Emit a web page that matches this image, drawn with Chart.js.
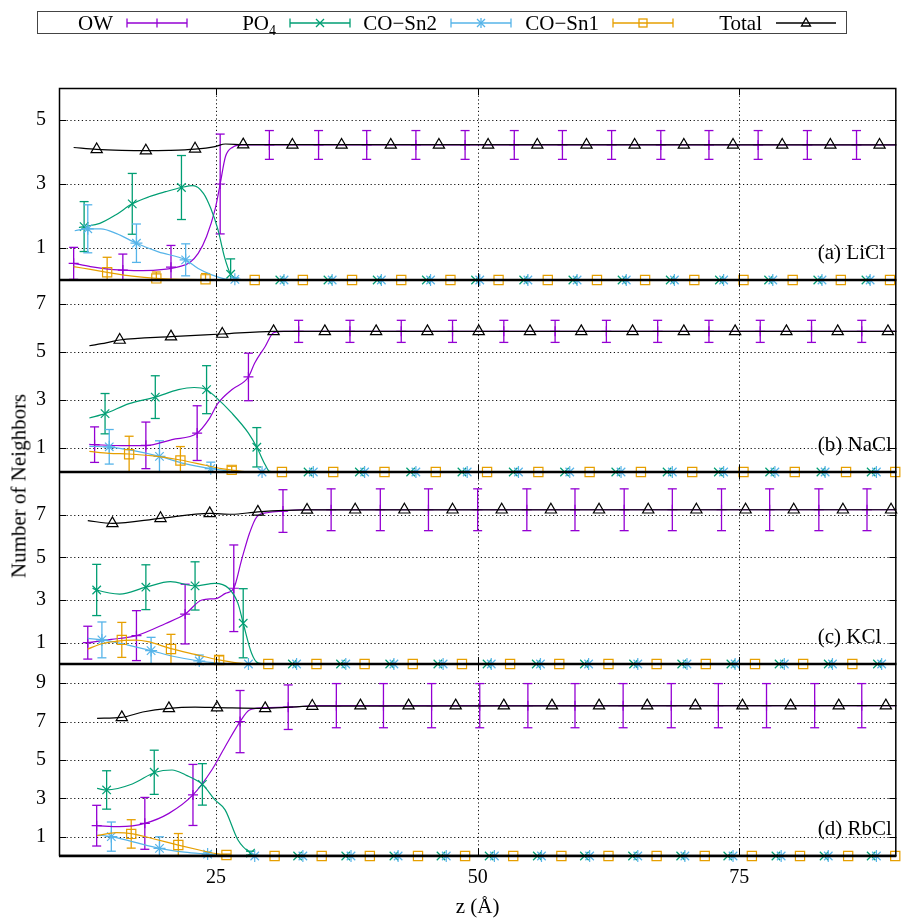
<!DOCTYPE html>
<html>
<head>
<meta charset="utf-8">
<script src="https://cdn.jsdelivr.net/npm/chart.js@4.4.0/dist/chart.umd.min.js"></script>
<style>
  html, body { margin: 0; padding: 0; background: #fff; }
  #wrap { position: relative; width: 904px; height: 921px; font-family: 'Liberation Serif', 'DejaVu Serif', serif; color: #000; }
  #legend { position: absolute; left: 37px; top: 11px; width: 808px; height: 21px; border: 1px solid #444; }
  .lab { position: absolute; top: 0; font-size: 21px; line-height: 22px; text-align: right; white-space: nowrap; }
  .lab sub { font-size: 14px; vertical-align: -5px; line-height: 0; }
  .smp { position: absolute; top: 0; }
  #ylab { position: absolute; left: 19px; top: 486px; transform: translate(-50%, -50%) rotate(-90deg); font-size: 21px; white-space: nowrap; }
</style>
</head>
<body>
<div id="wrap">
  <canvas id="chart" width="904" height="921"></canvas>
  <div id="legend"></div>
  <div id="ylab">Number of Neighbors</div>
</div>
<script>
// series (gnuplot default colours)
const seriesNames = ['OW', 'PO4', 'CO−Sn2', 'CO−Sn1', 'Total'];
const legendLabels = ['OW', 'PO<sub>4</sub>', 'CO−Sn2', 'CO−Sn1', 'Total'];
const seriesColors = ['#9400d3', '#009e73', '#56b4e9', '#e69f00', '#000000'];
const seriesMarkers = ['cross', 'crossRot', 'star', 'rect', 'triangle'];

// axes
const xTicks = [25, 50, 75];
const panelNames = ['(a) LiCl', '(b) NaCl', '(c) KCl', '(d) RbCl'];
const panelMax = [6, 8, 9, 10];
const panelTicks = [[1, 3, 5], [1, 3, 5, 7], [1, 3, 5, 7], [1, 3, 5, 7, 9]];

// (a) LiCl  -- lines: [z, n]   points: [z, n, err]
const licl_ow_line = [[11.4,0.52],[13,0.42],[14.5,0.35],[16.1,0.31],[18,0.29],[20,0.33],[21.5,0.42],[22.5,0.55],[23.3,0.83],[24.1,1.36],[24.9,2.19],[25.4,3.0],[25.9,3.85],[26.6,4.15],[27.5,4.22],[90,4.22]];
const licl_ow_pts = [[11.4,0.52,0.5],[16.1,0.31,0.5],[20.7,0.40,0.68],[25.4,3.0,1.56],[30.1,4.22,0.45],[34.8,4.22,0.45],[39.4,4.22,0.45],[44.1,4.22,0.45],[48.8,4.22,0.45],[53.5,4.22,0.45],[58.1,4.22,0.45],[62.8,4.22,0.45],[67.5,4.22,0.45],[72.1,4.22,0.45],[76.8,4.22,0.45],[81.5,4.22,0.45],[86.2,4.22,0.45]];
const licl_po4_line = [[11.9,1.64],[12.4,1.67],[13.9,1.77],[15.4,2.03],[17.0,2.38],[18.6,2.6],[20.2,2.76],[21.7,2.89],[22.8,2.95],[23.8,2.71],[24.5,2.24],[25.2,1.56],[25.8,0.73],[26.4,0.18],[27.0,0.03],[27.8,0],[90,0]];
const licl_po4_pts = [[12.4,1.67,0.78],[17.0,2.38,0.95],[21.7,2.89,1.0],[26.4,0.18,0.48],[31.1,0,0],[35.7,0,0],[40.4,0,0],[45.1,0,0],[49.8,0,0],[54.4,0,0],[59.1,0,0],[63.8,0,0],[68.4,0,0],[73.1,0,0],[77.8,0,0],[82.5,0,0],[87.1,0,0]];
const licl_sn2_line = [[11.5,1.54],[12.75,1.6],[14,1.6],[15.5,1.45],[17.4,1.15],[19.5,0.88],[22.1,0.63],[23.3,0.36],[24.6,0.16],[25.9,0.03],[27,0],[90,0]];
const licl_sn2_pts = [[12.75,1.6,0.75],[17.4,1.15,0.6],[22.1,0.63,0.5],[26.8,0.02,0.05],[31.5,0,0],[36.1,0,0],[40.8,0,0],[45.5,0,0],[50.2,0,0],[54.8,0,0],[59.5,0,0],[64.2,0,0],[68.8,0,0],[73.5,0,0],[78.2,0,0],[82.9,0,0],[87.5,0,0]];
const licl_sn1_line = [[11.4,0.42],[13,0.33],[14.6,0.24],[17,0.12],[19.3,0.05],[22,0.02],[24,0.01],[26,0],[90,0]];
const licl_sn1_pts = [[14.6,0.24,0.47],[19.3,0.05,0.2],[24.0,0.02,0.18],[28.7,0,0],[33.3,0,0],[38.0,0,0],[42.7,0,0],[47.4,0,0],[52.0,0,0],[56.7,0,0],[61.4,0,0],[66.0,0,0],[70.7,0,0],[75.4,0,0],[80.1,0,0],[84.7,0,0],[89.4,0,0]];
const licl_tot_line = [[11.4,4.14],[13.6,4.08],[16,4.05],[18.3,4.04],[20.5,4.05],[23.0,4.09],[24.9,4.17],[25.9,4.25],[27.6,4.23],[90,4.22]];
const licl_tot_pts = [[13.6,4.08],[18.3,4.04],[23.0,4.1],[27.6,4.23],[32.3,4.22],[37.0,4.22],[41.7,4.22],[46.3,4.22],[51.0,4.22],[55.7,4.22],[60.4,4.22],[65.0,4.22],[69.7,4.22],[74.4,4.22],[79.1,4.22],[83.7,4.22],[88.4,4.22]];

// (b) NaCl
const nacl_ow_line = [[12.9,1.15],[13.4,1.14],[16,1.1],[18.3,1.1],[20.8,1.35],[23.2,1.62],[24.3,2.18],[25.2,2.87],[26.5,3.43],[28.1,3.96],[28.7,4.54],[29.7,5.23],[30.5,5.8],[31.5,5.86],[90,5.86]];
const nacl_ow_pts = [[13.4,1.14,0.74],[18.3,1.11,0.97],[23.2,1.62,1.14],[28.1,3.96,0.99],[32.9,5.86,0.46],[37.8,5.86,0.46],[42.7,5.86,0.46],[47.6,5.86,0.46],[52.5,5.86,0.46],[57.4,5.86,0.46],[62.3,5.86,0.46],[67.2,5.86,0.46],[72.1,5.86,0.46],[77.0,5.86,0.46],[81.9,5.86,0.46],[86.7,5.86,0.46]];
const nacl_po4_line = [[12.9,2.25],[14.4,2.43],[16.7,2.85],[19.2,3.12],[21.4,3.43],[22.9,3.52],[24.1,3.43],[24.9,3.15],[26.5,2.46],[28.1,1.62],[28.9,1.03],[29.7,0.3],[30.1,0.03],[31,0],[90,0]];
const nacl_po4_pts = [[14.4,2.43,0.84],[19.2,3.12,0.89],[24.1,3.43,1.0],[28.9,1.03,0.82],[33.8,0,0],[38.7,0,0],[43.6,0,0],[48.5,0,0],[53.4,0,0],[58.3,0,0],[63.2,0,0],[68.1,0,0],[73.0,0,0],[77.9,0,0],[82.8,0,0],[87.6,0,0]];
const nacl_sn2_line = [[12.9,1.07],[14.8,1.04],[17,0.9],[19.6,0.65],[22,0.35],[24.5,0.14],[26.5,0.03],[28,0],[90,0]];
const nacl_sn2_pts = [[14.8,1.05,0.72],[19.6,0.65,0.65],[24.5,0.14,0.27],[29.4,0,0],[34.3,0,0],[39.2,0,0],[44.1,0,0],[49.0,0,0],[53.9,0,0],[58.8,0,0],[63.7,0,0],[68.6,0,0],[73.5,0,0],[78.4,0,0],[83.2,0,0],[88.1,0,0]];
const nacl_sn1_line = [[12.9,0.86],[14.8,0.78],[16.7,0.75],[19,0.67],[21.6,0.5],[24,0.28],[25.5,0.14],[26.5,0.08],[28,0.01],[29,0],[90,0]];
const nacl_sn1_pts = [[16.7,0.74,0.75],[21.6,0.48,0.58],[26.5,0.09,0.15],[31.3,0,0],[36.2,0,0],[41.1,0,0],[46.0,0,0],[50.9,0,0],[55.8,0,0],[60.7,0,0],[65.6,0,0],[70.5,0,0],[75.4,0,0],[80.3,0,0],[85.2,0,0],[89.9,0,0]];
const nacl_tot_line = [[12.9,5.26],[14.5,5.38],[15.8,5.5],[20.7,5.64],[25.6,5.75],[30.5,5.86],[90,5.86]];
const nacl_tot_pts = [[15.8,5.5],[20.7,5.64],[25.6,5.75],[30.5,5.86],[35.4,5.86],[40.3,5.86],[45.2,5.86],[50.1,5.86],[55.0,5.86],[59.9,5.86],[64.8,5.86],[69.7,5.86],[74.6,5.86],[79.5,5.86],[84.4,5.86],[89.2,5.86]];

// (c) KCl
const kcl_ow_line = [[12.75,1.0],[15,1.15],[17.4,1.33],[20.2,1.9],[22.05,2.34],[23.65,3.0],[25.1,3.08],[25.9,3.31],[26.7,3.55],[27.44,4.87],[28.2,6.13],[28.9,6.9],[30,7.1],[31.4,7.17],[33,7.23],[90,7.23]];
const kcl_ow_pts = [[12.75,1.0,0.77],[17.4,1.33,1.17],[22.05,2.34,1.4],[26.7,3.55,2.03],[31.4,7.17,1.0],[36.0,7.23,0.98],[40.7,7.23,0.98],[45.3,7.23,0.98],[50.0,7.23,0.98],[54.7,7.23,0.98],[59.3,7.23,0.98],[64.0,7.23,0.98],[68.6,7.23,0.98],[73.3,7.23,0.98],[77.9,7.23,0.98],[82.6,7.23,0.98],[87.2,7.23,0.98]];
const kcl_po4_line = [[13.2,3.55],[13.6,3.47],[15.8,3.28],[18.3,3.6],[20.65,3.86],[23.0,3.66],[24.9,3.78],[26.2,3.55],[27.1,2.84],[27.6,1.91],[28.4,0.5],[29.0,0.05],[30,0],[90,0]];
const kcl_po4_pts = [[13.6,3.47,1.2],[18.3,3.6,1.05],[23.0,3.66,1.13],[27.6,1.91,1.62],[32.3,0,0],[36.9,0,0],[41.6,0,0],[46.2,0,0],[50.9,0,0],[55.6,0,0],[60.2,0,0],[64.9,0,0],[69.5,0,0],[74.2,0,0],[78.8,0,0],[83.5,0,0],[88.2,0,0]];
const kcl_sn2_line = [[12.75,1.2],[14.1,1.13],[16.5,0.9],[18.8,0.63],[21,0.35],[23.4,0.14],[25,0.05],[26.5,0],[90,0]];
const kcl_sn2_pts = [[14.1,1.13,0.84],[18.8,0.63,0.62],[23.4,0.14,0.28],[28.1,0,0],[32.7,0,0],[37.4,0,0],[42.0,0,0],[46.7,0,0],[51.3,0,0],[56.0,0,0],[60.6,0,0],[65.3,0,0],[70.0,0,0],[74.6,0,0],[79.3,0,0],[83.9,0,0],[88.6,0,0]];
const kcl_sn1_line = [[12.75,0.7],[14.1,0.95],[16.0,1.1],[17.3,1.12],[18.5,1.05],[20.7,0.72],[23,0.45],[25.3,0.19],[27,0.05],[28.5,0],[90,0]];
const kcl_sn1_pts = [[16.0,1.13,0.82],[20.7,0.7,0.69],[25.3,0.19,0.19],[30.0,0,0],[34.6,0,0],[39.2,0,0],[43.8,0,0],[48.5,0,0],[53.1,0,0],[57.8,0,0],[62.5,0,0],[67.1,0,0],[71.8,0,0],[76.5,0,0],[81.1,0,0],[85.8,0,0]];
const kcl_tot_line = [[12.75,6.72],[15.1,6.59],[19.7,6.83],[24.4,7.06],[26.5,7.02],[29.0,7.13],[33.7,7.22],[90,7.23]];
const kcl_tot_pts = [[15.1,6.59],[19.7,6.83],[24.4,7.06],[29.0,7.13],[33.7,7.22],[38.3,7.23],[43.0,7.23],[47.6,7.23],[52.3,7.23],[57.0,7.23],[61.6,7.23],[66.3,7.23],[70.9,7.23],[75.6,7.23],[80.2,7.23],[84.9,7.23],[89.5,7.23]];

// (d) RbCl
const rbcl_ow_line = [[13.64,1.58],[15.76,1.53],[18.2,1.7],[20.5,2.22],[22.8,3.18],[24.6,4.48],[25.87,5.69],[27.3,7.0],[28.2,7.6],[29.5,7.72],[31.9,7.75],[35,7.83],[90,7.83]];
const rbcl_ow_pts = [[13.6,1.58,1.06],[18.2,1.7,1.35],[22.8,3.18,1.59],[27.3,7.0,1.62],[31.9,7.75,1.16],[36.5,7.83,1.15],[41.0,7.83,1.15],[45.6,7.83,1.15],[50.2,7.83,1.15],[54.8,7.83,1.15],[59.3,7.83,1.15],[63.9,7.83,1.15],[68.5,7.83,1.15],[73.0,7.83,1.15],[77.6,7.83,1.15],[82.2,7.83,1.15],[86.7,7.83,1.15]];
const rbcl_po4_line = [[13.64,3.52],[14.55,3.44],[17.0,3.75],[19.2,4.36],[20.8,4.48],[22.1,4.22],[23.7,3.73],[24.9,2.92],[25.87,2.4],[27.1,0.83],[28.3,0.15],[29,0.03],[30,0],[90,0]];
const rbcl_po4_pts = [[14.55,3.44,1.0],[19.1,4.36,1.15],[23.7,3.73,1.08],[28.3,0.15,0.1],[32.8,0,0],[37.4,0,0],[42.0,0,0],[46.5,0,0],[51.1,0,0],[55.7,0,0],[60.2,0,0],[64.8,0,0],[69.4,0,0],[73.9,0,0],[78.5,0,0],[83.1,0,0],[87.6,0,0]];
const rbcl_sn2_line = [[13.64,1.09],[15.0,1.01],[17,0.75],[19.6,0.4],[22,0.2],[24.2,0.1],[26,0.02],[27.5,0],[90,0]];
const rbcl_sn2_pts = [[15.0,1.01,0.76],[19.6,0.4,0.6],[24.2,0.1,0.1],[28.7,0,0],[33.3,0,0],[37.9,0,0],[42.4,0,0],[47.0,0,0],[51.6,0,0],[56.1,0,0],[60.7,0,0],[65.3,0,0],[69.8,0,0],[74.4,0,0],[79.0,0,0],[83.5,0,0],[88.1,0,0]];
const rbcl_sn1_line = [[13.64,1.06],[15.5,1.22],[16.9,1.17],[19,0.9],[21.4,0.57],[23.5,0.3],[25,0.12],[26.2,0.04],[27.5,0],[90,0]];
const rbcl_sn1_pts = [[16.9,1.15,0.74],[21.4,0.57,0.6],[26.0,0.05,0.05],[30.6,0,0],[35.1,0,0],[39.7,0,0],[44.3,0,0],[48.8,0,0],[53.4,0,0],[58.0,0,0],[62.5,0,0],[67.1,0,0],[71.7,0,0],[76.2,0,0],[80.8,0,0],[85.4,0,0],[89.9,0,0]];
const rbcl_tot_line = [[13.64,7.17],[16.0,7.22],[18,7.5],[20.5,7.69],[23,7.75],[25.1,7.73],[29.7,7.69],[34.2,7.81],[90,7.83]];
const rbcl_tot_pts = [[16.0,7.22],[20.5,7.69],[25.1,7.73],[29.7,7.69],[34.2,7.81],[38.8,7.83],[43.4,7.83],[47.9,7.83],[52.5,7.83],[57.1,7.83],[61.6,7.83],[66.2,7.83],[70.8,7.83],[75.3,7.83],[79.9,7.83],[84.5,7.83],[89.0,7.83]];

const panelLines = [
  [licl_ow_line, licl_po4_line, licl_sn2_line, licl_sn1_line, licl_tot_line],
  [nacl_ow_line, nacl_po4_line, nacl_sn2_line, nacl_sn1_line, nacl_tot_line],
  [kcl_ow_line, kcl_po4_line, kcl_sn2_line, kcl_sn1_line, kcl_tot_line],
  [rbcl_ow_line, rbcl_po4_line, rbcl_sn2_line, rbcl_sn1_line, rbcl_tot_line]
];
const panelPoints = [
  [licl_ow_pts, licl_po4_pts, licl_sn2_pts, licl_sn1_pts, licl_tot_pts],
  [nacl_ow_pts, nacl_po4_pts, nacl_sn2_pts, nacl_sn1_pts, nacl_tot_pts],
  [kcl_ow_pts, kcl_po4_pts, kcl_sn2_pts, kcl_sn1_pts, kcl_tot_pts],
  [rbcl_ow_pts, rbcl_po4_pts, rbcl_sn2_pts, rbcl_sn1_pts, rbcl_tot_pts]
];

const FONT = "'Liberation Serif', 'DejaVu Serif', serif";
const axisIds = ['y1', 'y2', 'y3', 'y4'];
const markerRadius = [5, 6, 6, 6.5, 6.5];

// build datasets: one smooth curve + one marker set (with error bars) per series and panel
const datasets = [];
panelLines.forEach((lines, pi) => {
  seriesNames.forEach((name, si) => {
    datasets.push({
      label: name + ' ' + panelNames[pi],
      yAxisID: axisIds[pi],
      data: lines[si].map(([x, y]) => ({ x, y })),
      showLine: true,
      borderColor: seriesColors[si],
      borderWidth: 1.2,
      pointRadius: 0,
      cubicInterpolationMode: 'monotone',
      clip: false,
      order: 4 - si
    });
    datasets.push({
      label: name + ' points ' + panelNames[pi],
      yAxisID: axisIds[pi],
      data: panelPoints[pi][si].map(([x, y, e]) => ({ x, y, e: e || 0 })),
      showLine: false,
      errorBars: si < 4,
      pointStyle: seriesMarkers[si],
      pointRadius: markerRadius[si],
      pointBorderWidth: 1.2,
      borderColor: seriesColors[si],
      backgroundColor: 'rgba(0,0,0,0)',
      clip: false,
      order: 4 - si
    });
  });
});

function yScale(i) {
  return {
    type: 'linear', position: 'left', stack: 'panels', stackWeight: 1,
    min: 0, max: panelMax[i],
    afterBuildTicks: s => { s.ticks = panelTicks[i].map(v => ({ value: v })); },
    afterFit: s => { s.width = 59; },
    grid: { display: false, drawTicks: false },
    border: { display: false },
    ticks: { color: '#000', padding: 13, autoSkip: false, font: { family: FONT, size: 20 } }
  };
}

function line(ctx, x1, y1, x2, y2) {
  ctx.beginPath(); ctx.moveTo(x1, y1); ctx.lineTo(x2, y2); ctx.stroke();
}

// gnuplot-like frame: dotted grid, error bars, borders, inward ticks, panel labels
const framePlugin = {
  id: 'frame',
  beforeDatasetsDraw(chart) {
    const { ctx, chartArea: a, scales } = chart;
    ctx.save();
    ctx.strokeStyle = '#111';
    ctx.lineWidth = 1;
    ctx.setLineDash([1.2, 2.6]);
    axisIds.forEach((id, i) => {
      const s = scales[id];
      panelTicks[i].forEach(v => {
        const y = Math.round(s.getPixelForValue(v)) + 0.5;
        line(ctx, a.left, y, a.right, y);
      });
    });
    xTicks.forEach(v => {
      const x = Math.round(scales.x.getPixelForValue(v)) + 0.5;
      line(ctx, x, a.top, x, a.bottom);
    });
    ctx.restore();

    // error bars
    chart.data.datasets.forEach((ds, di) => {
      if (!ds.errorBars) return;
      const meta = chart.getDatasetMeta(di);
      const ys = scales[ds.yAxisID];
      ctx.save();
      ctx.strokeStyle = ds.borderColor;
      ctx.lineWidth = 1.3;
      ds.data.forEach((d, i) => {
        if (!d.e) return;
        const px = meta.data[i].x;
        const hi = d.y + d.e, lo = d.y - d.e;
        const top = ys.getPixelForValue(Math.min(hi, ys.max));
        const bot = ys.getPixelForValue(Math.max(lo, ys.min));
        line(ctx, px, top, px, bot);
        if (hi <= ys.max) line(ctx, px - 4.5, top, px + 4.5, top);
        if (lo >= ys.min) line(ctx, px - 4.5, bot, px + 4.5, bot);
      });
      ctx.restore();
    });
  },
  afterDatasetsDraw(chart) {
    const { ctx, chartArea: a, scales } = chart;
    ctx.save();
    ctx.strokeStyle = '#000';
    ctx.lineWidth = 1;
    axisIds.forEach((id, i) => {
      const s = scales[id];
      // inward ticks on left and right borders
      panelTicks[i].forEach(v => {
        const y = Math.round(s.getPixelForValue(v)) + 0.5;
        line(ctx, a.left, y, a.left + 7, y);
        line(ctx, a.right - 7, y, a.right, y);
      });
      xTicks.forEach(v => {
        const x = Math.round(scales.x.getPixelForValue(v)) + 0.5;
        line(ctx, x, s.top, x, s.top + 7);
        line(ctx, x, s.bottom - 7, x, s.bottom);
      });
    });
    // borders
    ctx.lineWidth = 1.5;
    ctx.strokeRect(a.left + 0.5, a.top + 0.5, a.right - a.left - 1, a.bottom - a.top - 1);
    ctx.lineWidth = 2.4;
    axisIds.forEach(id => {
      const y = scales[id].bottom;
      line(ctx, a.left, y, a.right, y);
    });
    // panel labels
    ctx.fillStyle = '#000';
    ctx.font = "21px " + FONT;
    ctx.textAlign = 'left';
    ctx.textBaseline = 'middle';
    axisIds.forEach((id, i) => {
      ctx.fillText(panelNames[i], scales.x.getPixelForValue(82.5), scales[id].bottom - 27);
    });
    ctx.restore();
  }
};

new Chart(document.getElementById('chart'), {
  type: 'scatter',
  data: { datasets },
  options: {
    responsive: false,
    animation: false,
    events: [],
    layout: { padding: { top: 88, right: 1, left: 0, bottom: 0 } },
    plugins: { legend: { display: false }, tooltip: { enabled: false } },
    scales: {
      x: {
        type: 'linear', position: 'bottom', min: 10, max: 90,
        afterBuildTicks: s => { s.ticks = xTicks.map(v => ({ value: v })); },
        afterFit: s => { s.height = 65; },
        grid: { display: false, drawTicks: false },
        border: { display: false },
        ticks: { color: '#000', padding: 10, font: { family: FONT, size: 20 } },
        title: { display: true, text: 'z (Å)', color: '#000', padding: { top: 0, bottom: 1 }, font: { family: FONT, size: 21 } }
      },
      // stacked axes are laid out bottom-up, so the lowest panel comes first
      y4: yScale(3),
      y3: yScale(2),
      y2: yScale(1),
      y1: yScale(0)
    }
  },
  plugins: [framePlugin]
});

// legend box (gnuplot style: label then sample)
const legendTextRight = [75, 238, 399, 561, 724];
function sampleSvg(si) {
  const c = seriesColors[si];
  let s = '<svg width="62" height="22" viewBox="0 0 62 22"><g stroke="' + c + '" stroke-width="1.3" fill="none">';
  s += '<line x1="1" y1="11" x2="61" y2="11"/>';
  if (si < 4) s += '<line x1="1" y1="6.5" x2="1" y2="15.5"/><line x1="61" y1="6.5" x2="61" y2="15.5"/>';
  if (si === 0) s += '<line x1="31" y1="6.5" x2="31" y2="15.5"/>';
  if (si === 1 || si === 2) s += '<line x1="27" y1="7" x2="35" y2="15"/><line x1="27" y1="15" x2="35" y2="7"/>';
  if (si === 2) s += '<line x1="31" y1="6" x2="31" y2="16"/>';
  if (si === 3) s += '<rect x="27" y="7" width="8" height="8"/>';
  if (si === 4) s += '<polygon points="31,6 26.5,14 35.5,14"/>';
  return s + '</g></svg>';
}
const legend = document.getElementById('legend');
legendLabels.forEach((lab, si) => {
  const t = document.createElement('div');
  t.className = 'lab';
  t.style.right = (808 - legendTextRight[si]) + 'px';
  t.innerHTML = lab;
  legend.appendChild(t);
  const sm = document.createElement('div');
  sm.className = 'smp';
  sm.style.left = (legendTextRight[si] + 13) + 'px';
  sm.innerHTML = sampleSvg(si);
  legend.appendChild(sm);
});
</script>
</body>
</html>
